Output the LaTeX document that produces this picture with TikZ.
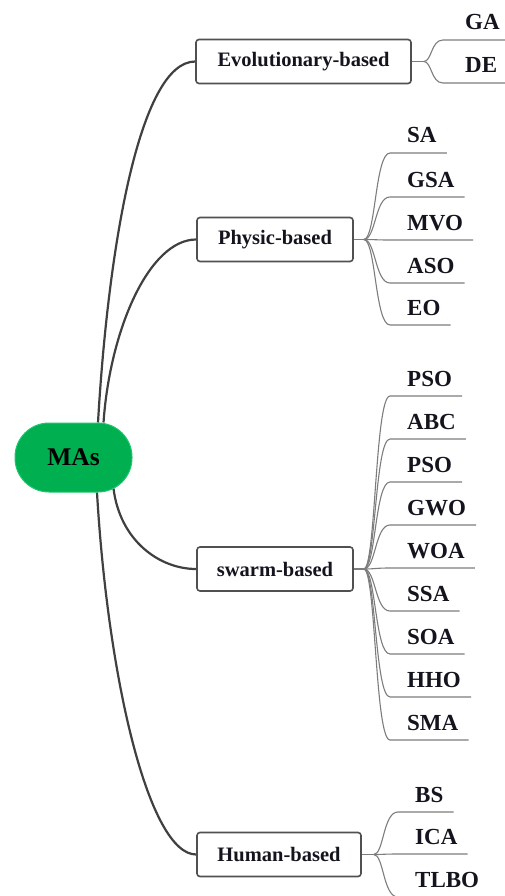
\documentclass[tikz,border=0pt]{standalone}
\usepackage{fontspec}
\setmainfont{Liberation Serif}
\usetikzlibrary{calc}
\definecolor{mgreen}{RGB}{0,176,80}
\definecolor{mborder}{RGB}{30,200,110}
\definecolor{conn}{RGB}{64,64,64}
\definecolor{thinc}{RGB}{125,125,125}
\definecolor{boxb}{RGB}{80,80,80}
\definecolor{txt}{RGB}{20,20,30}
\pgfdeclarelayer{bg}\pgfsetlayers{bg,main}
\begin{document}
\begin{tikzpicture}[x=1pt,y=-1pt,
 root/.style={rectangle, rounded corners=34pt, fill=mgreen, draw=mborder, line width=1pt, minimum width=117pt, minimum height=69pt, inner sep=0pt, font=\fontsize{25.5}{25.5}\selectfont\bfseries, text=black},
 cat/.style={rectangle, rounded corners=3pt, draw=boxb, fill=white, line width=1.6pt, minimum height=44pt, inner sep=0pt, font=\fontsize{20.5}{20.5}\selectfont\bfseries, text=txt},
 leaf/.style={anchor=base west, inner sep=0pt, font=\fontsize{23}{23}\selectfont\bfseries, text=txt},
 mainconn/.style={draw=conn, line width=2.2pt},
 sub/.style={draw=thinc, line width=1.1pt}]
\useasboundingbox (0,0) rectangle (505,896);
\clip (0,0) rectangle (505,896);
% nodes
\node[root] (mas) at (73.5,457.5) {MAs};
\node[cat, minimum width=215pt] (evo) at (303.5,61.5) {Evolutionary-based};
\node[cat, minimum width=156pt] (phy) at (275,239.5) {Physic-based};
\node[cat, minimum width=156pt] (swa) at (275,569) {swarm-based};
\node[cat, minimum width=164pt] (hum) at (279,854.5) {Human-based};
% main connectors
\begin{pgfonlayer}{bg}
\draw[mainconn] ($(mas.north)+(24.5,0)$) .. controls +(10,-173) and +(-56,0) .. (evo.west);
\draw[mainconn] ($(mas.north)+(30,0)$) .. controls +(6.5,-93) and +(-47,0) .. (phy.west);
\draw[mainconn] ($(mas.south)+(40,-4)$) .. controls +(6.5,52) and +(-37,0) .. (swa.west);
\draw[mainconn] ($(mas.south)+(23.5,0)$) .. controls +(11,188) and +(-47,0) .. (hum.west);
\end{pgfonlayer}
% evolutionary leaves
\coordinate (eb) at ($(evo.east)+(12,0)$);
\draw[sub] (evo.east) -- (eb);
\foreach \nm/\tx/\yy in {e1/GA/40,e2/DE/83}{
  \node[leaf] (\nm) at (465,\yy-10) {\tx};
  \draw[sub] (eb) .. controls +(8,0) and +(-12,0) .. ($(\nm.base west)+(-22,10)$) -- ($(\nm.base west)+(60,10)$);
}
% physic leaves
\coordinate (pb) at ($(phy.east)+(10,0)$);
\draw[sub] (phy.east) -- (pb);
\foreach \nm/\tx/\yy in {p1/SA/153,p2/GSA/197,p3/MVO/240,p4/ASO/283,p5/EO/325}{
  \node[leaf] (\nm) at (407,\yy-10) {\tx};
  \draw[sub] (pb) .. controls +(12,0) and +(-15,0) .. ($(\nm.base west)+(-17,10)$) -- ($(\nm.base east)+(10,10)$);
}
% swarm leaves
\coordinate (sb) at ($(swa.east)+(10,0)$);
\draw[sub] (swa.east) -- (sb);
\foreach \nm/\tx/\yy in {s1/PSO/396,s2/ABC/439,s3/PSO/482,s4/GWO/525,s5/WOA/568,s6/SSA/611,s7/SOA/654,s8/HHO/697,s9/SMA/740}{
  \node[leaf] (\nm) at (407,\yy-10) {\tx};
  \draw[sub] (sb) .. controls +(12,0) and +(-15,0) .. ($(\nm.base west)+(-17,10)$) -- ($(\nm.base east)+(10,10)$);
}
% human leaves
\coordinate (hb) at ($(hum.east)+(12,0)$);
\draw[sub] (hum.east) -- (hb);
\foreach \nm/\tx/\yy in {h1/BS/812,h2/ICA/854,h3/TLBO/897}{
  \node[leaf] (\nm) at (415,\yy-10) {\tx};
  \draw[sub] (hb) .. controls +(10,0) and +(-15,0) .. ($(\nm.base west)+(-17,10)$) -- ($(\nm.base east)+(10,10)$);
}
\end{tikzpicture}
\end{document}
